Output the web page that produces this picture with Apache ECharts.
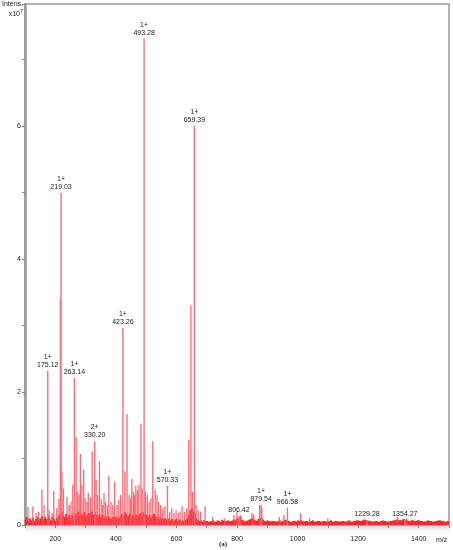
<!DOCTYPE html>
<html>
<head>
<meta charset="utf-8">
<script src="https://cdn.jsdelivr.net/npm/echarts@6/dist/echarts.min.js"></script>
<style>html,body{margin:0;padding:0;background:#fff;}#c{width:453px;height:550px;}</style>
</head>
<body>
<div id="c"></div>
<script>
// Labelled peaks: m/z, intensity (x10^7), charge state
var peakMz = [175.12, 219.03, 263.14, 330.20, 423.26, 493.28, 570.33, 659.39, 806.42, 879.54, 966.58, 1229.28, 1354.27];
var peakInt = [2.32, 4.99, 2.21, 1.26, 2.96, 7.31, 0.59, 6.00, 0.14, 0.30, 0.26, 0.07, 0.08];
var peakCharge = ['1+', '1+', '1+', '2+', '1+', '1+', '1+', '1+', '', '1+', '1+', '', ''];

// Other visible (unlabelled) peaks: [m/z, intensity x10^7]
var minorPeaks = [[110,0.27],[126,0.28],[137,0.18],[145,0.2],[156,0.53],[163,0.3],[180,0.22],[190,0.18],[195,0.51],[205,0.25],[212,0.4],[217,3.4],[222,0.8],[227,0.55],[239,0.42],[246,0.3],[252,0.35],[258,0.6],[269,1.32],[274,0.5],[279,0.45],[283,1.07],[288,0.6],[294,0.83],[299,0.4],[305,0.35],[309,0.48],[316,0.42],[322,1.11],[335,0.68],[340,0.45],[346,0.96],[352,0.4],[357,0.3],[361,0.48],[366,0.35],[372,0.3],[377,0.74],[384,0.35],[390,0.3],[396,0.65],[404,0.3],[410,0.38],[416,0.45],[430,0.8],[437,1.67],[444,0.45],[449,0.4],[453,0.69],[458,0.5],[462,0.45],[466,0.59],[471,0.52],[476,0.6],[483,1.52],[487,0.55],[498,0.5],[504,0.45],[510,0.35],[516,0.4],[522,1.26],[530,0.53],[536,0.45],[541,0.35],[548,0.3],[555,0.25],[562,0.28],[578,0.2],[585,0.25],[592,0.18],[599,0.22],[606,0.18],[612,0.2],[619,0.28],[627,0.2],[634,0.25],[641,1.28],[648,3.3],[653,0.5],[665,0.3],[672,0.22],[680,0.2],[695,0.28],[720,0.12],[760,0.1],[790,0.15],[800,0.2],[812,0.15],[850,0.18],[855,0.15],[875,0.3],[882,0.25],[940,0.12],[955,0.15],[1010,0.18],[1040,0.1],[1100,0.1],[1330,0.12],[1360,0.1]];

// Baseline noise: [m/z, intensity x10^7]
var noise = [[100,0.08],[105,0.12],[110,0.06],[115,0.1],[120,0.07],[125,0.11],[130,0.06],[135,0.09],[140,0.12],[145,0.07],[150,0.1],[155,0.13],[160,0.08],[165,0.12],[170,0.09],[175,0.14],[180,0.1],[185,0.07],[190,0.12],[195,0.09],[200,0.06],[205,0.1],[210,0.13],[215,0.16],[220,0.2],[225,0.14],[230,0.12],[235,0.17],[240,0.11],[245,0.15],[250,0.1],[255,0.16],[260,0.13],[265,0.18],[270,0.15],[275,0.2],[280,0.14],[285,0.17],[290,0.15],[295,0.19],[300,0.13],[305,0.16],[310,0.18],[315,0.14],[320,0.2],[325,0.16],[330,0.19],[335,0.15],[340,0.13],[345,0.16],[350,0.12],[355,0.15],[360,0.11],[365,0.14],[370,0.1],[375,0.13],[380,0.11],[385,0.09],[390,0.12],[395,0.1],[400,0.13],[405,0.09],[410,0.11],[415,0.15],[420,0.17],[425,0.15],[430,0.19],[435,0.16],[440,0.14],[445,0.17],[450,0.12],[455,0.15],[460,0.11],[465,0.16],[470,0.13],[475,0.15],[480,0.18],[485,0.14],[490,0.2],[495,0.17],[500,0.15],[505,0.12],[510,0.15],[515,0.11],[520,0.14],[525,0.17],[530,0.12],[535,0.1],[540,0.13],[545,0.09],[550,0.11],[555,0.08],[560,0.1],[565,0.09],[570,0.08],[575,0.1],[580,0.07],[585,0.09],[590,0.06],[595,0.08],[600,0.09],[605,0.06],[610,0.08],[615,0.05],[620,0.07],[625,0.06],[630,0.08],[635,0.1],[640,0.15],[645,0.22],[650,0.25],[655,0.2],[660,0.18],[665,0.1],[670,0.08],[675,0.06],[680,0.07],[685,0.05],[690,0.07],[695,0.05],[700,0.06],[705,0.05],[710,0.05],[715,0.06],[720,0.07],[725,0.05],[730,0.05],[735,0.07],[740,0.06],[745,0.05],[750,0.08],[755,0.06],[760,0.05],[765,0.06],[770,0.07],[775,0.05],[780,0.06],[785,0.07],[790,0.08],[795,0.07],[800,0.1],[805,0.09],[810,0.12],[815,0.08],[820,0.07],[825,0.05],[830,0.06],[835,0.07],[840,0.08],[845,0.09],[850,0.1],[855,0.08],[860,0.07],[865,0.06],[870,0.09],[875,0.11],[880,0.1],[885,0.08],[890,0.06],[895,0.05],[900,0.07],[905,0.06],[910,0.05],[915,0.06],[920,0.06],[925,0.05],[930,0.05],[935,0.06],[940,0.07],[945,0.05],[950,0.06],[955,0.07],[960,0.08],[965,0.07],[970,0.06],[975,0.05],[980,0.05],[985,0.06],[990,0.06],[995,0.05],[1000,0.07],[1005,0.06],[1010,0.08],[1015,0.06],[1020,0.05],[1025,0.06],[1030,0.06],[1035,0.05],[1040,0.05],[1045,0.06],[1050,0.07],[1055,0.05],[1060,0.05],[1065,0.06],[1070,0.06],[1075,0.05],[1080,0.05],[1085,0.06],[1090,0.06],[1095,0.05],[1100,0.05],[1105,0.06],[1110,0.07],[1115,0.05],[1120,0.05],[1125,0.06],[1130,0.06],[1135,0.05],[1140,0.05],[1145,0.06],[1150,0.06],[1155,0.05],[1160,0.05],[1165,0.06],[1170,0.07],[1175,0.05],[1180,0.05],[1185,0.06],[1190,0.06],[1195,0.07],[1200,0.07],[1205,0.06],[1210,0.06],[1215,0.07],[1220,0.08],[1225,0.07],[1230,0.07],[1235,0.06],[1240,0.06],[1245,0.05],[1250,0.05],[1255,0.06],[1260,0.06],[1265,0.05],[1270,0.05],[1275,0.06],[1280,0.07],[1285,0.06],[1290,0.06],[1295,0.05],[1300,0.05],[1305,0.06],[1310,0.06],[1315,0.07],[1320,0.07],[1325,0.08],[1330,0.08],[1335,0.07],[1340,0.07],[1345,0.08],[1350,0.09],[1355,0.08],[1360,0.07],[1365,0.06],[1370,0.06],[1375,0.07],[1380,0.07],[1385,0.06],[1390,0.06],[1395,0.07],[1400,0.07],[1405,0.06],[1410,0.06],[1415,0.05],[1420,0.05],[1425,0.06],[1430,0.07],[1435,0.06],[1440,0.06],[1445,0.05],[1450,0.05],[1455,0.06],[1460,0.06],[1465,0.07],[1470,0.07],[1475,0.06],[1480,0.06],[1485,0.05],[1490,0.05],[1495,0.06],[1500,0.06]];

var xTicks = [200, 400, 600, 800, 1000, 1200, 1400];
var yTicks = [0, 2, 4, 6];

var FONT = 'Liberation Sans';
var chart = echarts.init(document.getElementById('c'), null, {renderer: 'canvas'});

var labelled = peakMz.map(function (m, i) {
  return {
    value: [m, peakInt[i]],
    label: {
      show: true,
      position: 'top',
      distance: 2,
      fontSize: 7,
      fontFamily: FONT,
      color: '#222',
      lineHeight: 8,
      formatter: (peakCharge[i] ? peakCharge[i] + '\n' : '') + peakMz[i].toFixed(2)
    }
  };
});

chart.setOption({
  animation: false,
  backgroundColor: '#fff',
  grid: {left: 25, right: 4, top: 4, bottom: 25, show: true, borderColor: '#9a9a9a', borderWidth: 1.5, backgroundColor: 'transparent'},
  xAxis: {
    type: 'value', min: 100, max: 1500, interval: 100,
    axisLine: {show: true, onZero: false, lineStyle: {color: '#b0b0b0', width: 1}},
    axisTick: {show: true, length: 3, lineStyle: {color: '#888'}},
    splitLine: {show: false},
    axisLabel: {
      margin: 11, fontSize: 7, fontFamily: FONT, color: '#222',
      formatter: function (v) { return xTicks.indexOf(v) >= 0 ? String(v) : ''; }
    }
  },
  yAxis: {
    type: 'value', min: 0, max: 7.83, interval: 1,
    axisLine: {show: true, lineStyle: {color: '#999', width: 2.5}},
    axisTick: {show: true, length: 3, lineStyle: {color: '#888'}},
    splitLine: {show: false},
    axisLabel: {
      margin: 4, fontSize: 7, fontFamily: FONT, color: '#222',
      formatter: function (v) { return yTicks.indexOf(v) >= 0 ? String(v) : ''; }
    }
  },
  series: [
    {type: 'bar', data: noise, barWidth: 2, barGap: '-100%', itemStyle: {color: '#ff2424'}, silent: true, z: 2},
    {type: 'bar', data: minorPeaks, barWidth: 1.3, barGap: '-100%', itemStyle: {color: '#f6505c', opacity: 0.85}, silent: true, z: 3},
    {type: 'bar', data: labelled, barWidth: 1.4, barGap: '-100%', itemStyle: {color: '#f4707c'}, silent: true, z: 4}
  ],
  graphic: [
    {type: 'rect', left: 25, top: 526, shape: {width: 425, height: 9}, silent: true,
     style: {fill: new echarts.graphic.LinearGradient(0, 0, 0, 1, [{offset: 0, color: 'rgba(200,200,200,0.6)'}, {offset: 1, color: 'rgba(240,240,240,0)'}])}, z: -1},
    {type: 'text', x: 23, y: 1, z: 10, style: {text: 'Intens.', textAlign: 'right', fontSize: 7, fontFamily: FONT, fill: '#222'}},
    {type: 'text', x: 23, y: 8, z: 10, style: {
      text: '{b|x10}{s|7}', textAlign: 'right', fontFamily: FONT, fill: '#222',
      rich: {b: {fontSize: 7, fontFamily: FONT, fill: '#222', verticalAlign: 'bottom'}, s: {fontSize: 5.5, fontFamily: FONT, fill: '#222', padding: [0, 0, 4, 0]}}
    }},
    {type: 'text', left: 436, top: 537, style: {text: 'm/z', fontSize: 7, fontFamily: FONT, fill: '#222'}},
    {type: 'text', left: 219, top: 541, style: {text: '(a)', fontSize: 7, fontWeight: 'bold', fontFamily: 'Liberation Serif', fill: '#222'}}
  ]
});
</script>
</body>
</html>
